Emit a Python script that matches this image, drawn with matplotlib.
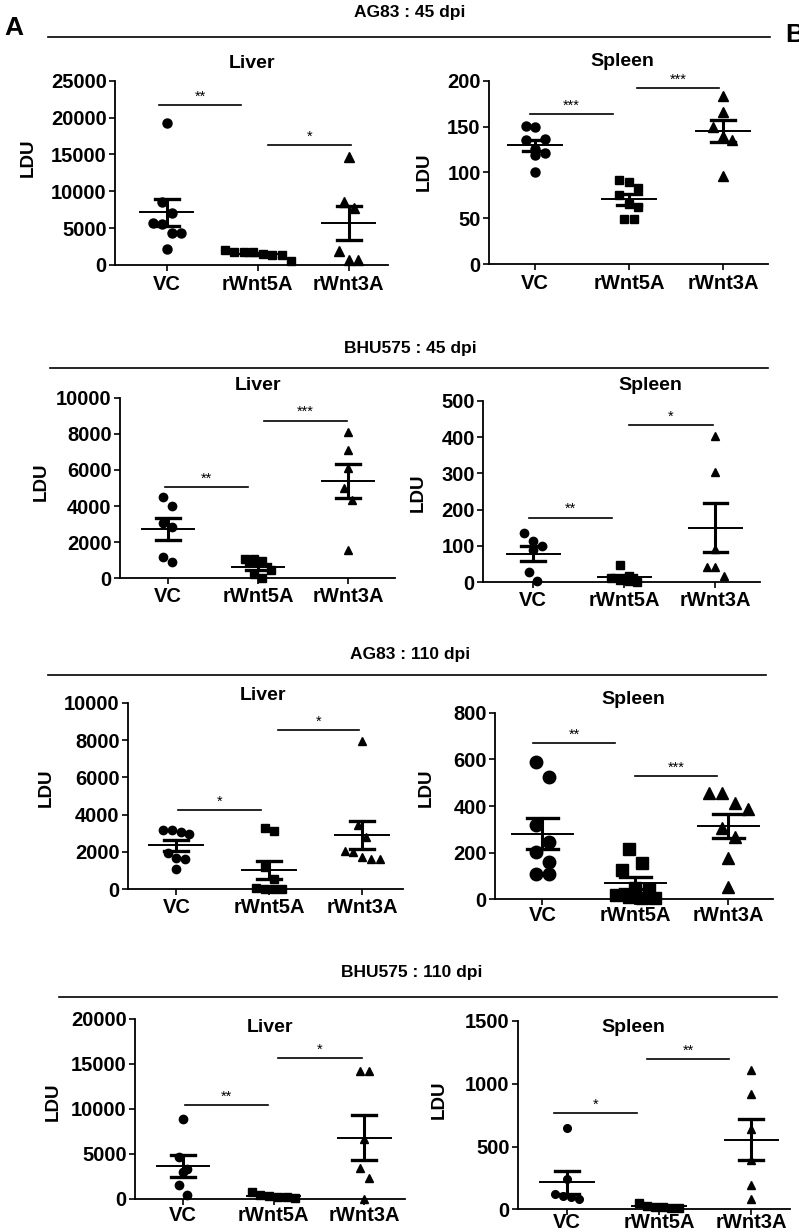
import numpy as np
import matplotlib
matplotlib.use("Agg")
import matplotlib.pyplot as plt
from matplotlib.lines import Line2D

plt.rcParams['font.family'] = ['Liberation Sans', 'DejaVu Sans']

W, H = 799, 1232
groups = ["VC", "rWnt5A", "rWnt3A"]
markers = ["o", "s", "^"]

# --- data (LDU values) ---
ag83_45_liver_vc = [19300, 8500, 7100, 5700, 5600, 4400, 4400, 2200]
ag83_45_liver_5a = [1700, 1400, 1800, 600, 1500, 2000, 1300, 1700]
ag83_45_liver_3a = [14600, 8600, 7700, 1900, 700, 700]

ag83_45_spleen_vc = [151, 150, 136, 135, 126, 121, 119, 100]
ag83_45_spleen_5a = [92, 90, 83, 75, 66, 62, 49, 49]
ag83_45_spleen_3a = [183, 166, 149, 140, 135, 96]

bhu_45_liver_vc = [4480, 4000, 3040, 2860, 1160, 890]
bhu_45_liver_5a = [950, 1050, 1050, 450, 250, 30]
bhu_45_liver_3a = [8120, 7100, 6090, 4980, 4340, 1570]

bhu_45_spleen_vc = [137, 115, 101, 89, 29, 4]
bhu_45_spleen_5a = [48, 16, 11, 5, 3, 2]
bhu_45_spleen_3a = [404, 305, 92, 43, 43, 16]

ag83_110_liver_vc = [3200, 2950, 3050, 3200, 1950, 1650, 1700, 1100]
ag83_110_liver_5a = [3140, 3270, 1210, 550, 0, 0, 0, 90]
ag83_110_liver_3a = [7950, 3450, 2800, 2050, 2000, 1750, 1600, 1600]

ag83_110_spleen_vc = [587, 523, 319, 247, 204, 161, 107, 107]
ag83_110_spleen_5a = [216, 157, 126, 50, 45, 20, 10, 5, 5]
ag83_110_spleen_3a = [454, 454, 411, 387, 304, 269, 176, 54]

bhu_110_liver_vc = [8830, 4680, 3270, 3000, 1480, 410]
bhu_110_liver_5a = [400, 200, 750, 300, 50, 200]
bhu_110_liver_3a = [14200, 14200, 6640, 3380, 2340, 0]

bhu_110_spleen_vc = [650, 239, 109, 80, 96, 120]
bhu_110_spleen_5a = [29, 16, 8, 53, 8, 21]
bhu_110_spleen_3a = [1110, 916, 640, 393, 194, 80]

# significance brackets: (x from, x to, y, label)
sig_ag83_45_liver = [(0.91, 1.82, 21700, "**"), (2.11, 3.02, 16300, "*")]
sig_ag83_45_spleen = [(0.95, 1.83, 163.6, "***"), (2.09, 2.96, 192, "***")]
sig_bhu_45_liver = [(0.97, 1.89, 5070, "**"), (2.07, 2.99, 8730, "***")]
sig_bhu_45_spleen = [(0.96, 1.87, 178, "**"), (2.05, 2.97, 434, "*")]
sig_ag83_110_liver = [(1.02, 1.91, 4250, "*"), (2.09, 2.97, 8540, "*")]
sig_ag83_110_spleen = [(0.90, 1.78, 669, "**"), (2.0, 2.88, 530, "***")]
sig_bhu_110_liver = [(1.02, 1.94, 10390, "**"), (2.05, 2.97, 15660, "*")]
sig_bhu_110_spleen = [(0.86, 1.76, 765, "*"), (1.87, 2.76, 1195, "**")]

# --- layout (pixels) ---
panels = [
    dict(data=[ag83_45_liver_vc, ag83_45_liver_5a, ag83_45_liver_3a], sig=sig_ag83_45_liver,
         box=(115, 388, 80.7, 265), xlim=(0.43, 3.43), ymax=25000, step=5000, title="Liver",
         tpos=(252, 64), lpos=(37, 158), ms=6.5, pad=3),
    dict(data=[ag83_45_spleen_vc, ag83_45_spleen_5a, ag83_45_spleen_3a], sig=sig_ag83_45_spleen,
         box=(489, 768, 80.7, 264), xlim=(0.51, 3.48), ymax=200, step=50, title="Spleen",
         tpos=(622, 62), lpos=(433, 172), ms=6.5, pad=3),
    dict(data=[bhu_45_liver_vc, bhu_45_liver_5a, bhu_45_liver_3a], sig=sig_bhu_45_liver,
         box=(120, 395, 397.7, 578.3), xlim=(0.47, 3.52), ymax=10000, step=2000, title="Liver",
         tpos=(258, 386), lpos=(50, 482), ms=6, pad=2),
    dict(data=[bhu_45_spleen_vc, bhu_45_spleen_5a, bhu_45_spleen_3a], sig=sig_bhu_45_spleen,
         box=(483, 760, 400.7, 582.3), xlim=(0.45, 3.49), ymax=500, step=100, title="Spleen",
         tpos=(650, 385), lpos=(427, 493), ms=6, pad=2),
    dict(data=[ag83_110_liver_vc, ag83_110_liver_5a, ag83_110_liver_3a], sig=sig_ag83_110_liver,
         box=(128, 403, 702.7, 889.3), xlim=(0.48, 3.44), ymax=10000, step=2000, title="Liver",
         tpos=(263, 695), lpos=(55, 788), ms=6, pad=2),
    dict(data=[ag83_110_spleen_vc, ag83_110_spleen_5a, ag83_110_spleen_3a], sig=sig_ag83_110_spleen,
         box=(495, 773, 712.7, 899.3), xlim=(0.49, 3.48), ymax=800, step=200, title="Spleen",
         tpos=(633, 699), lpos=(435, 788), ms=9, pad=1),
    dict(data=[bhu_110_liver_vc, bhu_110_liver_5a, bhu_110_liver_3a], sig=sig_bhu_110_liver,
         box=(135, 405, 1019, 1198.7), xlim=(0.47, 3.45), ymax=20000, step=5000, title="Liver",
         tpos=(270, 1028), lpos=(62, 1102), ms=6, pad=1),
    dict(data=[bhu_110_spleen_vc, bhu_110_spleen_5a, bhu_110_spleen_3a], sig=sig_bhu_110_spleen,
         box=(518, 790, 1021, 1209.3), xlim=(0.47, 3.42), ymax=1500, step=500, title="Spleen",
         tpos=(633, 1028), lpos=(448, 1100), ms=5.5, pad=-1),
]

headers = [
    ("AG83 : 45 dpi", 410, 12, 37, 48, 770),
    ("BHU575 : 45 dpi", 410, 348, 368, 50, 768),
    ("AG83 : 110 dpi", 410, 655, 675, 48, 766),
    ("BHU575 : 110 dpi", 412, 972, 997, 59, 777),
]

fig = plt.figure(figsize=(W / 100, H / 100), dpi=100)


def fx(px):
    return px / W


def fy(py):
    return 1 - py / H


def swarm(vals, d_px, ppu_y, ppu_x):
    # points that fall in the same band are set side by side, centred
    order = np.argsort(vals)[::-1]
    offs = np.zeros(len(vals))
    row = []
    for i in list(order) + [None]:
        if i is not None and (not row or abs(vals[row[0]] - vals[i]) * ppu_y < d_px * 1.5):
            row.append(i)
            continue
        n = len(row)
        for k, j in enumerate(row):
            offs[j] = (k - (n - 1) / 2) * d_px / ppu_x
        row = [i] if i is not None else []
    return offs


for p in panels:
    x0, x1, yt, yb = p["box"]
    ax = fig.add_axes([fx(x0), fy(yb), (x1 - x0) / W, (yb - yt) / H])
    ax.set_xlim(*p["xlim"])
    ax.set_ylim(0, p["ymax"])
    ppu_x = (x1 - x0) / (p["xlim"][1] - p["xlim"][0])
    ppu_y = (yb - yt) / p["ymax"]
    ms = p["ms"]
    d_px = ms * 100 / 72 * 1.05
    big = ms > 8
    for gi, vals in enumerate(p["data"]):
        vals = np.array(vals, dtype=float)
        xc = gi + 1
        offs = swarm(vals, d_px, ppu_y, ppu_x)
        msz = ms * (0.92 if markers[gi] == "s" else 1.0)
        ax.plot(xc + offs, vals, linestyle="none", marker=markers[gi], ms=msz,
                color="black", clip_on=False, zorder=3)
        m = vals.mean()
        sem = vals.std(ddof=1) / np.sqrt(len(vals))
        hw = 0.33 if big else 0.29
        cw = 0.17 if big else 0.13
        ax.plot([xc - hw, xc + hw], [m, m], color="black", lw=1.4, zorder=4)
        ax.plot([xc, xc], [m - sem, m + sem], color="black", lw=2.2, zorder=4)
        for yy in (m - sem, m + sem):
            ax.plot([xc - cw, xc + cw], [yy, yy], color="black", lw=2.4, zorder=4)
    for a, b, y, lab in p["sig"]:
        ax.plot([a, b], [y, y], color="black", lw=1.2, clip_on=False)
        ax.annotate(lab, xy=((a + b) / 2, y), xytext=(0, 1), textcoords="offset points",
                    ha="center", va="bottom", fontsize=10.5, annotation_clip=False)
    ax.set_xticks([1, 2, 3])
    ax.set_xticklabels(groups, fontsize=14.5, fontweight="bold")
    ticks = np.arange(0, p["ymax"] + 1, p["step"])
    ax.set_yticks(ticks)
    ax.set_yticklabels([str(int(v)) for v in ticks], fontsize=14.5, fontweight="bold")
    ax.tick_params(axis="both", direction="out", length=4, width=1.2, pad=2)
    ax.tick_params(axis="x", pad=p["pad"])
    for s in ("top", "right"):
        ax.spines[s].set_visible(False)
    for s in ("left", "bottom"):
        ax.spines[s].set_linewidth(1.3)
    ax.patch.set_alpha(0)
    ax.set_ylabel("LDU", fontsize=13.5, fontweight="bold")
    ax.yaxis.set_label_coords((p["lpos"][0] - x0) / (x1 - x0), (yb - p["lpos"][1]) / (yb - yt))
    fig.text(fx(p["tpos"][0]), fy(p["tpos"][1]), p["title"], ha="center", va="center",
             fontsize=14, fontweight="bold")

for txt, tx, ty, ly, lx0, lx1 in headers:
    fig.text(fx(tx), fy(ty), txt, ha="center", va="center", fontsize=12.5, fontweight="bold")
    fig.add_artist(Line2D([fx(lx0), fx(lx1)], [fy(ly), fy(ly)], color="black", lw=1.2))

fig.text(fx(4), fy(28), "A", ha="left", va="center", fontsize=19, fontweight="bold")
fig.text(fx(785), fy(35), "B", ha="left", va="center", fontsize=19, fontweight="bold")

fig.savefig("out.png", dpi=100)
